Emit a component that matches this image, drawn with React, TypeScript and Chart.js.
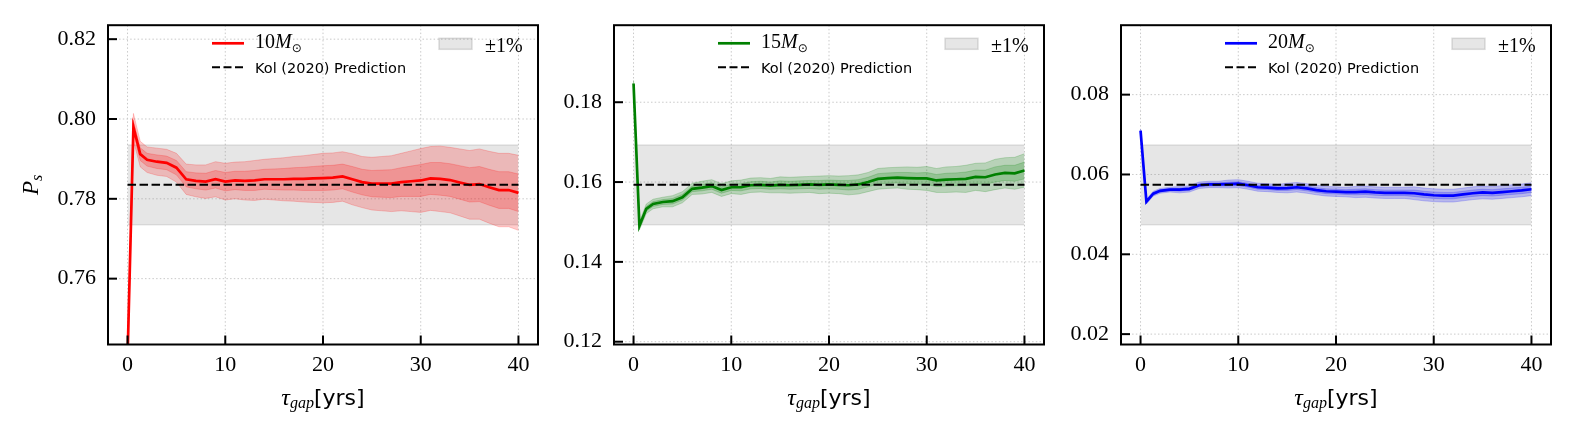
import { useEffect, useRef } from "react"
import { Chart, registerables } from "chart.js"

Chart.register(...registerables)

// gap length in years (x values shared by all three panels)
const gapYears = [
  0, 0.6, 1.3, 2, 3, 4, 5, 6, 7, 8, 9, 10, 11, 12, 13, 14, 15, 16, 17, 18, 19, 20,
  21, 22, 23, 24, 25, 26, 27, 28, 29, 30, 31, 32, 33, 34, 35, 36, 37, 38, 39, 40,
]

// 10 Msun
const ps10 = [
  0.74, 0.798, 0.7912, 0.7898, 0.7893, 0.789, 0.7878, 0.7849, 0.7845, 0.7843, 0.7849,
  0.7843, 0.7846, 0.7845, 0.7846, 0.7849, 0.7849, 0.7849, 0.785, 0.785, 0.7851, 0.7852,
  0.7853, 0.7856, 0.7849, 0.7842, 0.7838, 0.7838, 0.7838, 0.7842, 0.7844, 0.7846,
  0.7851, 0.785, 0.7847, 0.7841, 0.7835, 0.7837, 0.7829, 0.7822, 0.7822, 0.7815,
]
const sigma10 = [
  0.002, 0.0017, 0.0016, 0.0016, 0.0017, 0.0017, 0.0018, 0.0019, 0.002, 0.0021, 0.0022,
  0.0023, 0.0023, 0.0024, 0.0025, 0.0025, 0.0026, 0.0027, 0.0028, 0.0029, 0.003, 0.0031,
  0.0031, 0.0031, 0.0032, 0.0032, 0.0033, 0.0034, 0.0035, 0.0036, 0.0038, 0.004,
  0.004, 0.0041, 0.0041, 0.0042, 0.0043, 0.0044, 0.0045, 0.0046, 0.0046, 0.0047,
]

// 15 Msun
const ps15 = [
  0.1847, 0.149, 0.1533, 0.1545, 0.155, 0.1552, 0.1562, 0.1583, 0.1586, 0.159, 0.158,
  0.1587, 0.1587, 0.1592, 0.1593, 0.1591, 0.1593, 0.1592, 0.1593, 0.1594, 0.1593, 0.1594,
  0.1593, 0.1592, 0.1594, 0.16, 0.1608, 0.161, 0.1611, 0.161, 0.1609, 0.1609,
  0.1604, 0.1606, 0.1607, 0.1608, 0.1613, 0.1612, 0.1619, 0.1623, 0.1622, 0.1629,
]
const sigma15 = [
  0.0004, 0.0005, 0.0006, 0.0006, 0.0006, 0.0007, 0.0007, 0.0007, 0.0008, 0.0008, 0.0008,
  0.0008, 0.0009, 0.0009, 0.0009, 0.0009, 0.001, 0.001, 0.001, 0.001, 0.0011, 0.0011,
  0.0011, 0.0012, 0.0012, 0.0012, 0.0013, 0.0013, 0.0013, 0.0014, 0.0014, 0.0015,
  0.0015, 0.0016, 0.0016, 0.0017, 0.0017, 0.0018, 0.0019, 0.0019, 0.002, 0.0021,
]

// 20 Msun
const ps20 = [
  0.071, 0.0532, 0.0552, 0.0559, 0.0562, 0.0562, 0.0564, 0.0573, 0.0575, 0.0575, 0.0576,
  0.0577, 0.0573, 0.0568, 0.0567, 0.0565, 0.0566, 0.0568, 0.0565, 0.0561, 0.0558, 0.0557,
  0.0556, 0.0556, 0.0557, 0.0555, 0.0554, 0.0554, 0.0554, 0.0553, 0.055, 0.0548,
  0.0547, 0.0547, 0.055, 0.0553, 0.0555, 0.0554, 0.0556, 0.0558, 0.056, 0.0563,
]
const sigma20 = [
  0.0002, 0.0003, 0.0003, 0.0003, 0.0003, 0.0004, 0.0004, 0.0004, 0.0004, 0.0004, 0.0005,
  0.0005, 0.0005, 0.0005, 0.0005, 0.0005, 0.0006, 0.0006, 0.0006, 0.0006, 0.0006, 0.0006,
  0.0006, 0.0007, 0.0007, 0.0007, 0.0007, 0.0007, 0.0007, 0.0008, 0.0008, 0.0008,
  0.0008, 0.0008, 0.0008, 0.0008, 0.0008, 0.0008, 0.0008, 0.0008, 0.0008, 0.0008,
]

const masses = ["10", "15", "20"]
const kolPrediction = [0.7835, 0.1593, 0.0574]
const bandHalfWidth = 0.01
const bandRange = [0, 40]

const xTicks = [0, 10, 20, 30, 40]
const yTicks10 = [0.76, 0.78, 0.8, 0.82]
const yTicks15 = [0.12, 0.14, 0.16, 0.18]
const yTicks20 = [0.02, 0.04, 0.06, 0.08]
const yLimits = [
  [0.7435, 0.8235],
  [0.1193, 0.1993],
  [0.0174, 0.0974],
]

const SERIF = '"Liberation Serif", "DejaVu Serif", serif'
const SANS = '"DejaVu Sans", sans-serif'

function drawParts(ctx, x, y, parts) {
  let cx = x
  for (const p of parts) {
    ctx.font = p.font
    ctx.fillText(p.text, cx, y + (p.dy || 0))
    cx += ctx.measureText(p.text).width
  }
}

function partsWidth(ctx, parts) {
  let w = 0
  for (const p of parts) {
    ctx.font = p.font
    w += ctx.measureText(p.text).width
  }
  return w
}

function makeMplPlugin(panel) {
  return {
    id: "mpl",
    beforeDatasetsDraw(chart) {
      const { ctx, chartArea, scales } = chart
      const { left, right, top, bottom } = chartArea
      ctx.save()
      ctx.strokeStyle = "#c9c9c9"
      ctx.lineWidth = 1
      ctx.setLineDash([1.5, 2.2])
      for (const t of xTicks) {
        const px = scales.x.getPixelForValue(t)
        ctx.beginPath()
        ctx.moveTo(px, top)
        ctx.lineTo(px, bottom)
        ctx.stroke()
      }
      for (const t of panel.yTicks) {
        const py = scales.y.getPixelForValue(t)
        ctx.beginPath()
        ctx.moveTo(left, py)
        ctx.lineTo(right, py)
        ctx.stroke()
      }
      ctx.restore()
    },
    afterDraw(chart) {
      const { ctx, chartArea, scales } = chart
      const { left, right, top, bottom } = chartArea
      ctx.save()
      // frame
      ctx.strokeStyle = "#000"
      ctx.lineWidth = 2
      ctx.strokeRect(left, top, right - left, bottom - top)
      // inward ticks
      for (const t of xTicks) {
        const px = scales.x.getPixelForValue(t)
        ctx.beginPath()
        ctx.moveTo(px, bottom)
        ctx.lineTo(px, bottom - 9)
        ctx.stroke()
      }
      for (const t of panel.yTicks) {
        const py = scales.y.getPixelForValue(t)
        ctx.beginPath()
        ctx.moveTo(left, py)
        ctx.lineTo(left + 9, py)
        ctx.stroke()
      }

      // legend
      ctx.fillStyle = "#000"
      ctx.textBaseline = "alphabetic"
      ctx.textAlign = "left"
      ctx.lineWidth = 2.7
      ctx.strokeStyle = panel.color
      ctx.beginPath()
      ctx.moveTo(left + 104, 43.3)
      ctx.lineTo(left + 136, 43.3)
      ctx.stroke()
      drawParts(ctx, left + 147, 47.5, [
        { text: panel.mass, font: `20px ${SERIF}` },
        { text: "M", font: `italic 20px ${SERIF}` },
        { text: "\u2299", font: `12px ${SANS}`, dy: 4 },
      ])

      ctx.strokeStyle = "#000"
      ctx.lineWidth = 2
      ctx.setLineDash([8, 3.5])
      ctx.beginPath()
      ctx.moveTo(left + 104, 67.3)
      ctx.lineTo(left + 136, 67.3)
      ctx.stroke()
      ctx.setLineDash([])
      ctx.font = `14.5px ${SANS}`
      ctx.fillText("Kol (2020) Prediction", left + 147, 72.8)

      ctx.fillStyle = "rgba(128,128,128,0.2)"
      ctx.fillRect(left + 331, 38.3, 33, 11)
      ctx.strokeStyle = "rgba(128,128,128,0.25)"
      ctx.lineWidth = 1.5
      ctx.strokeRect(left + 331, 38.3, 33, 11)
      ctx.fillStyle = "#000"
      ctx.font = `20px ${SERIF}`
      ctx.fillText("\u00b11%", left + 377, 51.5)

      // x title
      const xParts = [
        { text: "\u03c4", font: `italic 24px ${SERIF}` },
        { text: "gap", font: `italic 16px ${SERIF}`, dy: 3 },
        { text: "[yrs]", font: `22px ${SANS}` },
      ]
      const cx = (left + right) / 2
      drawParts(ctx, cx - partsWidth(ctx, xParts) / 2, 405, xParts)

      // y title
      if (panel.showYTitle) {
        const yParts = [
          { text: "P", font: `italic 23px ${SERIF}` },
          { text: "s", font: `italic 16px ${SERIF}`, dy: 4 },
        ]
        ctx.translate(38, (top + bottom) / 2)
        ctx.rotate(-Math.PI / 2)
        drawParts(ctx, -partsWidth(ctx, yParts) / 2, 0, yParts)
      }
      ctx.restore()
    },
  }
}

function Panel({ offset, index, color, fillColor, values, sigma, yTicks, showYTitle }) {
  const canvasRef = useRef(null)

  useEffect(() => {
    if (!canvasRef.current) return
    const pred = kolPrediction[index]
    const [yMin, yMax] = yLimits[index]
    const pts = (k) => values.map((v, i) => ({ x: gapYears[i], y: v + k * sigma[i] }))
    const flat = (y) => bandRange.map((x) => ({ x, y }))
    const common = { pointRadius: 0, tension: 0, fill: false }

    const chart = new Chart(canvasRef.current, {
      type: "line",
      data: {
        datasets: [
          { ...common, data: flat(pred + bandHalfWidth), borderColor: "rgba(128,128,128,0.2)", borderWidth: 1.5, order: 10 },
          { ...common, data: flat(pred - bandHalfWidth), borderColor: "rgba(128,128,128,0.2)", borderWidth: 1.5, fill: "-1", backgroundColor: "rgba(128,128,128,0.2)", order: 9 },
          { ...common, data: pts(2), borderColor: fillColor, borderWidth: 1, order: 8 },
          { ...common, data: pts(-2), borderColor: fillColor, borderWidth: 1, fill: "-1", backgroundColor: fillColor, order: 7 },
          { ...common, data: pts(1), borderColor: fillColor, borderWidth: 1, order: 6 },
          { ...common, data: pts(-1), borderColor: fillColor, borderWidth: 1, fill: "-1", backgroundColor: fillColor, order: 5 },
          { ...common, data: pts(0), borderColor: color, borderWidth: 2.7, order: 2 },
          { ...common, data: flat(pred), borderColor: "#000", borderWidth: 2, borderDash: [8.5, 3.5], order: 1 },
        ],
      },
      options: {
        animation: false,
        responsive: true,
        maintainAspectRatio: false,
        events: [],
        layout: { padding: { top: 22.7, right: 22, left: 0, bottom: 0 } },
        plugins: { legend: { display: false }, tooltip: { enabled: false } },
        scales: {
          x: {
            type: "linear",
            min: -2,
            max: 42,
            bounds: "data",
            afterBuildTicks: (s) => {
              s.ticks = xTicks.map((v) => ({ value: v }))
            },
            afterFit: (s) => {
              s.height = 92.5
            },
            grid: { display: false, drawTicks: false },
            border: { display: false },
            ticks: {
              font: { family: SERIF, size: 22 },
              color: "#000",
              padding: 8,
              maxRotation: 0,
              autoSkip: false,
              callback: (v) => String(v),
            },
          },
          y: {
            type: "linear",
            min: yMin,
            max: yMax,
            bounds: "data",
            afterBuildTicks: (s) => {
              s.ticks = yTicks.map((v) => ({ value: v }))
            },
            afterFit: (s) => {
              s.width = 108
            },
            grid: { display: false, drawTicks: false },
            border: { display: false },
            ticks: {
              font: { family: SERIF, size: 22 },
              color: "#000",
              padding: 12,
              autoSkip: false,
              callback: (v) => Number(v).toFixed(2),
            },
          },
        },
      },
      plugins: [makeMplPlugin({ color, mass: masses[index], yTicks, showYTitle })],
    })

    return () => chart.destroy()
  }, [])

  return (
    <div style={{ position: "absolute", left: offset, top: 0, width: 560, height: 437 }}>
      <canvas ref={canvasRef} />
    </div>
  )
}

export default function App() {
  return (
    <div style={{ position: "absolute", left: 0, top: 0, width: 1575, height: 437, background: "#fff" }}>
      <Panel offset={0} index={0} color="#ff0000" fillColor="rgba(255,0,0,0.2)" values={ps10} sigma={sigma10} yTicks={yTicks10} showYTitle />
      <Panel offset={506.3} index={1} color="#008000" fillColor="rgba(0,128,0,0.2)" values={ps15} sigma={sigma15} yTicks={yTicks15} showYTitle={false} />
      <Panel offset={1012.7} index={2} color="#0000ff" fillColor="rgba(0,0,255,0.2)" values={ps20} sigma={sigma20} yTicks={yTicks20} showYTitle={false} />
    </div>
  )
}
